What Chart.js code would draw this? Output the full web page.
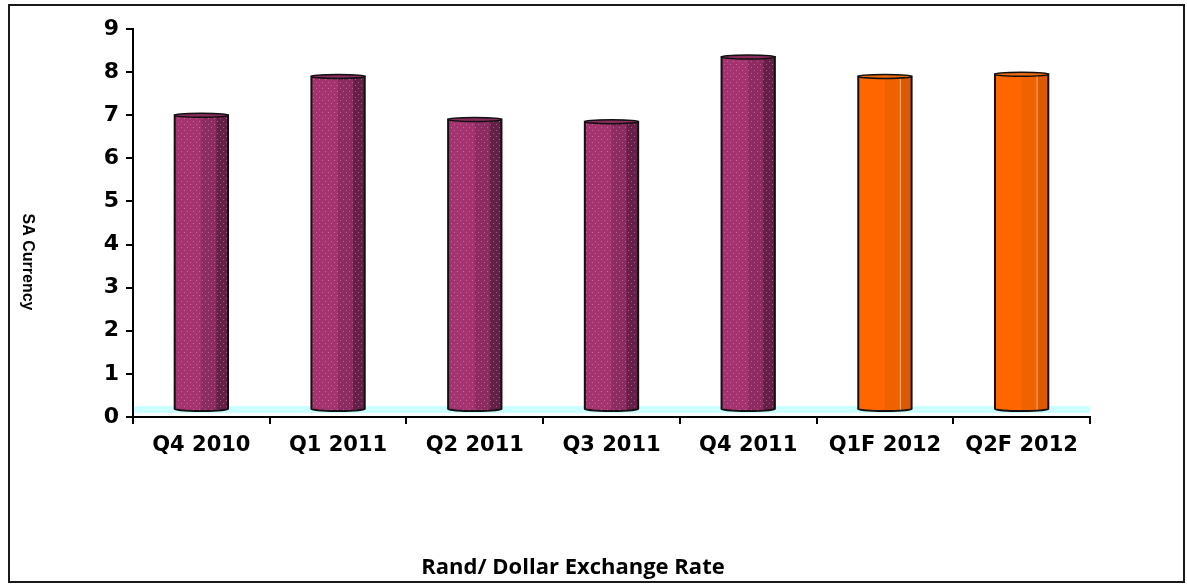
<!DOCTYPE html>
<html>
<head>
<meta charset="utf-8">
<title>Rand/ Dollar Exchange Rate</title>
<script src="https://cdn.jsdelivr.net/npm/chart.js@4"></script>
<style>
  html, body { margin: 0; padding: 0; background: #fff; }
  #wrap { width: 1187px; height: 585px; position: relative; }
</style>
</head>
<body>
<div id="wrap"><canvas id="zarChart"></canvas></div>
<script>
// quarters and the rand / dollar rate for each
const quarters = ['Q4 2010', 'Q1 2011', 'Q2 2011', 'Q3 2011', 'Q4 2011', 'Q1F 2012', 'Q2F 2012'];
const rates = [7.0, 7.9, 6.9, 6.85, 8.35, 7.9, 7.95];
// last two quarters are forecasts, drawn in orange
const isForecast = [false, false, false, false, false, true, true];

const yMin = 0;
const yMax = 9;

// colours for the faces of the cylinders
const purple = { light: '#a3346f', mid: '#8c2c60', dark: '#642046', cap: '#8a2b5e', dots: 'rgba(240,150,200,0.5)' };
const orange = { light: '#ff6600', mid: '#f06200', dark: '#dd5900', cap: '#f06a10', line: '#f7b285' };

// little dotted texture for the purple bars
function makeDots(colour) {
    let c = document.createElement('canvas');
    c.width = 6;
    c.height = 6;
    let g = c.getContext('2d');
    g.fillStyle = colour;
    g.fillRect(1, 1, 1, 1);
    g.fillRect(4, 4, 1, 1);
    return c;
}

const cylinders = {
    id: 'cylinders',
    beforeDraw(chart) {
        let ctx = chart.ctx;
        ctx.save();
        ctx.fillStyle = '#fff';
        ctx.fillRect(0, 0, chart.width, chart.height);
        ctx.restore();
    },
    beforeDatasetsDraw(chart) {
        // pale cyan floor just above the x axis
        let ctx = chart.ctx;
        let area = chart.chartArea;
        let y0 = chart.scales.y.getPixelForValue(0);
        ctx.save();
        ctx.fillStyle = '#ccffff';
        ctx.fillRect(area.left + 1, y0 - 11, area.right - area.left - 1, 7);
        ctx.restore();
    },
    afterDatasetsDraw(chart) {
        let ctx = chart.ctx;
        let meta = chart.getDatasetMeta(0);
        let dots = ctx.createPattern(makeDots(purple.dots), 'repeat');
        meta.data.forEach((bar, i) => {
            let p = bar.getProps(['x', 'y', 'base', 'width'], true);
            let w = p.width;
            let l = p.x - w / 2;
            let r = p.x + w / 2;
            let bot = p.base - 5;
            let c = isForecast[i] ? orange : purple;

            ctx.save();
            ctx.beginPath();
            ctx.moveTo(l, p.y);
            ctx.lineTo(l, bot - 2);
            ctx.ellipse(p.x, bot - 2, w / 2, 2, 0, Math.PI, 0, true);
            ctx.lineTo(r, p.y);
            ctx.closePath();
            ctx.fillStyle = c.light;
            ctx.fill();

            ctx.save();
            ctx.clip();
            ctx.fillStyle = c.mid;
            ctx.fillRect(l + w * 0.5, p.y - 4, w * 0.28, bot - p.y + 8);
            ctx.fillStyle = c.dark;
            ctx.fillRect(l + w * 0.78, p.y - 4, w * 0.22 + 1, bot - p.y + 8);
            if (isForecast[i]) {
                ctx.fillStyle = c.line;
                ctx.fillRect(l + w * 0.78, p.y, 1, bot - p.y + 4);
            } else {
                ctx.fillStyle = dots;
                ctx.fillRect(l, p.y - 4, w, bot - p.y + 8);
            }
            ctx.restore();

            ctx.lineWidth = 2;
            ctx.strokeStyle = '#111';
            ctx.stroke();

            // top of the cylinder
            ctx.beginPath();
            ctx.ellipse(p.x, p.y, w / 2, 2, 0, 0, Math.PI * 2);
            ctx.fillStyle = c.cap;
            ctx.fill();
            ctx.lineWidth = 1.5;
            ctx.stroke();
            ctx.restore();
        });
    },
    afterDraw(chart) {
        let ctx = chart.ctx;
        ctx.save();
        ctx.fillStyle = '#000';
        ctx.textAlign = 'center';
        ctx.textBaseline = 'middle';

        // vertical axis title, reading downwards
        ctx.save();
        ctx.translate(27, 262);
        ctx.rotate(Math.PI / 2);
        ctx.font = 'bold 16px "Liberation Sans", Arial, sans-serif';
        ctx.fillText('SA Currency', 0, 0);
        ctx.restore();

        ctx.font = 'bold 22px "Open Sans"';
        ctx.fillText('Rand/ Dollar Exchange Rate', 573, 568);

        // frame round the whole chart
        ctx.strokeStyle = '#1a1a1a';
        ctx.lineWidth = 2;
        ctx.strokeRect(9, 5, 1175, 577);
        ctx.restore();
    }
};

var ctx = document.getElementById('zarChart').getContext('2d');
new Chart(ctx, {
    type: 'bar',
    data: {
        labels: quarters,
        datasets: [{
            label: 'Rand/ Dollar Exchange Rate',
            data: rates,
            // the cylinders plugin paints the bars
            backgroundColor: 'rgba(0,0,0,0)',
            borderWidth: 0,
            barPercentage: 0.39,
            categoryPercentage: 1
        }]
    },
    options: {
        responsive: true,
        maintainAspectRatio: false,
        animation: false,
        layout: {
            padding: { top: 29, right: 97, left: 0, bottom: 0 }
        },
        plugins: {
            legend: { display: false },
            tooltip: { enabled: false }
        },
        scales: {
            x: {
                grid: {
                    drawOnChartArea: false,
                    offset: true,
                    tickLength: 7,
                    color: '#000',
                    lineWidth: 2
                },
                border: { color: '#000', width: 2 },
                ticks: {
                    color: '#000',
                    font: { family: 'DejaVu Sans', weight: 'bold', size: 21 },
                    padding: 9,
                    maxRotation: 0
                },
                afterFit: (scale) => { scale.height = 168; }
            },
            y: {
                min: yMin,
                max: yMax,
                grid: {
                    drawOnChartArea: false,
                    tickLength: 7,
                    color: '#000',
                    lineWidth: 2
                },
                border: { color: '#000', width: 2 },
                ticks: {
                    stepSize: 1,
                    color: '#000',
                    font: { family: 'DejaVu Sans', weight: 'bold', size: 22 },
                    padding: 7
                },
                afterFit: (scale) => { scale.width = 133; }
            }
        }
    },
    plugins: [cylinders]
});
</script>
</body>
</html>
